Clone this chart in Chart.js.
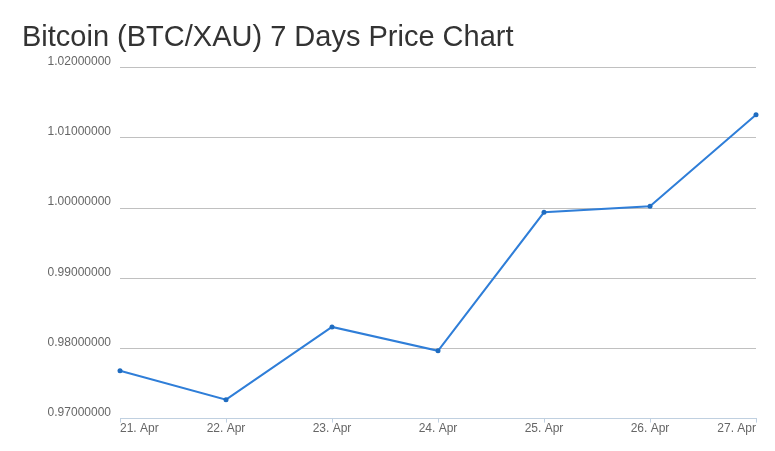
<!DOCTYPE html>
<html>
<head>
<meta charset="utf-8">
<script src="https://cdn.jsdelivr.net/npm/chart.js@4"></script>
<style>
  html, body { margin: 0; padding: 0; background: #fff; }
  #wrap { width: 775px; height: 451px; }
</style>
</head>
<body>
<div id="wrap"><canvas id="chart" width="775" height="451"></canvas></div>
<script>
// chart data
const days = ["21. Apr", "22. Apr", "23. Apr", "24. Apr", "25. Apr", "26. Apr", "27. Apr"];
const prices = [0.97682, 0.97270, 0.98307, 0.97966, 0.99940, 1.00026, 1.01330];
const yMin = 0.97;
const yMax = 1.02;

const lineColor = "#2f7ed8";

const ctx = document.getElementById("chart").getContext("2d");
new Chart(ctx, {
    type: "line",
    data: {
        labels: days,
        datasets: [{
            label: "BTC/XAU",
            data: prices,
            borderColor: lineColor,
            backgroundColor: "#1f6cc0",
            borderWidth: 2,
            pointRadius: 2.5,
            pointHoverRadius: 4,
            pointBorderWidth: 0,
            tension: 0,
        }],
    },
    options: {
        responsive: false,
        animation: false,
        layout: {
            padding: { left: 22, right: 19, top: 21, bottom: 16 },
        },
        plugins: {
            legend: { display: false },
            tooltip: { enabled: false },
            title: {
                display: true,
                text: "Bitcoin (BTC/XAU) 7 Days Price Chart",
                align: "start",
                color: "#333333",
                font: { family: "'Liberation Sans', Arial, sans-serif", size: 29, weight: "normal" },
                padding: { top: 0, bottom: 12 },
            },
        },
        scales: {
            x: {
                offset: false,
                border: { color: "#c0d0e0", width: 1 },
                grid: {
                    drawOnChartArea: false,
                    drawTicks: true,
                    tickLength: 4,
                    color: "#c0d0e0",
                },
                ticks: {
                    align: "inner",
                    maxRotation: 0,
                    autoSkip: false,
                    padding: -1,
                    color: "#666666",
                    font: { family: "'Liberation Sans', Arial, sans-serif", size: 12 },
                },
            },
            y: {
                min: yMin,
                max: yMax,
                border: { display: false },
                grid: {
                    color: "#c0c0c0",
                    drawTicks: false,
                },
                ticks: {
                    stepSize: 0.01,
                    padding: 9,
                    labelOffset: -6,
                    color: "#666666",
                    font: { family: "'Liberation Sans', Arial, sans-serif", size: 12 },
                    callback: (v) => Number(v).toFixed(8),
                },
                afterFit: (scale) => { scale.width = 98; },
            },
        },
    },
});
</script>
</body>
</html>
